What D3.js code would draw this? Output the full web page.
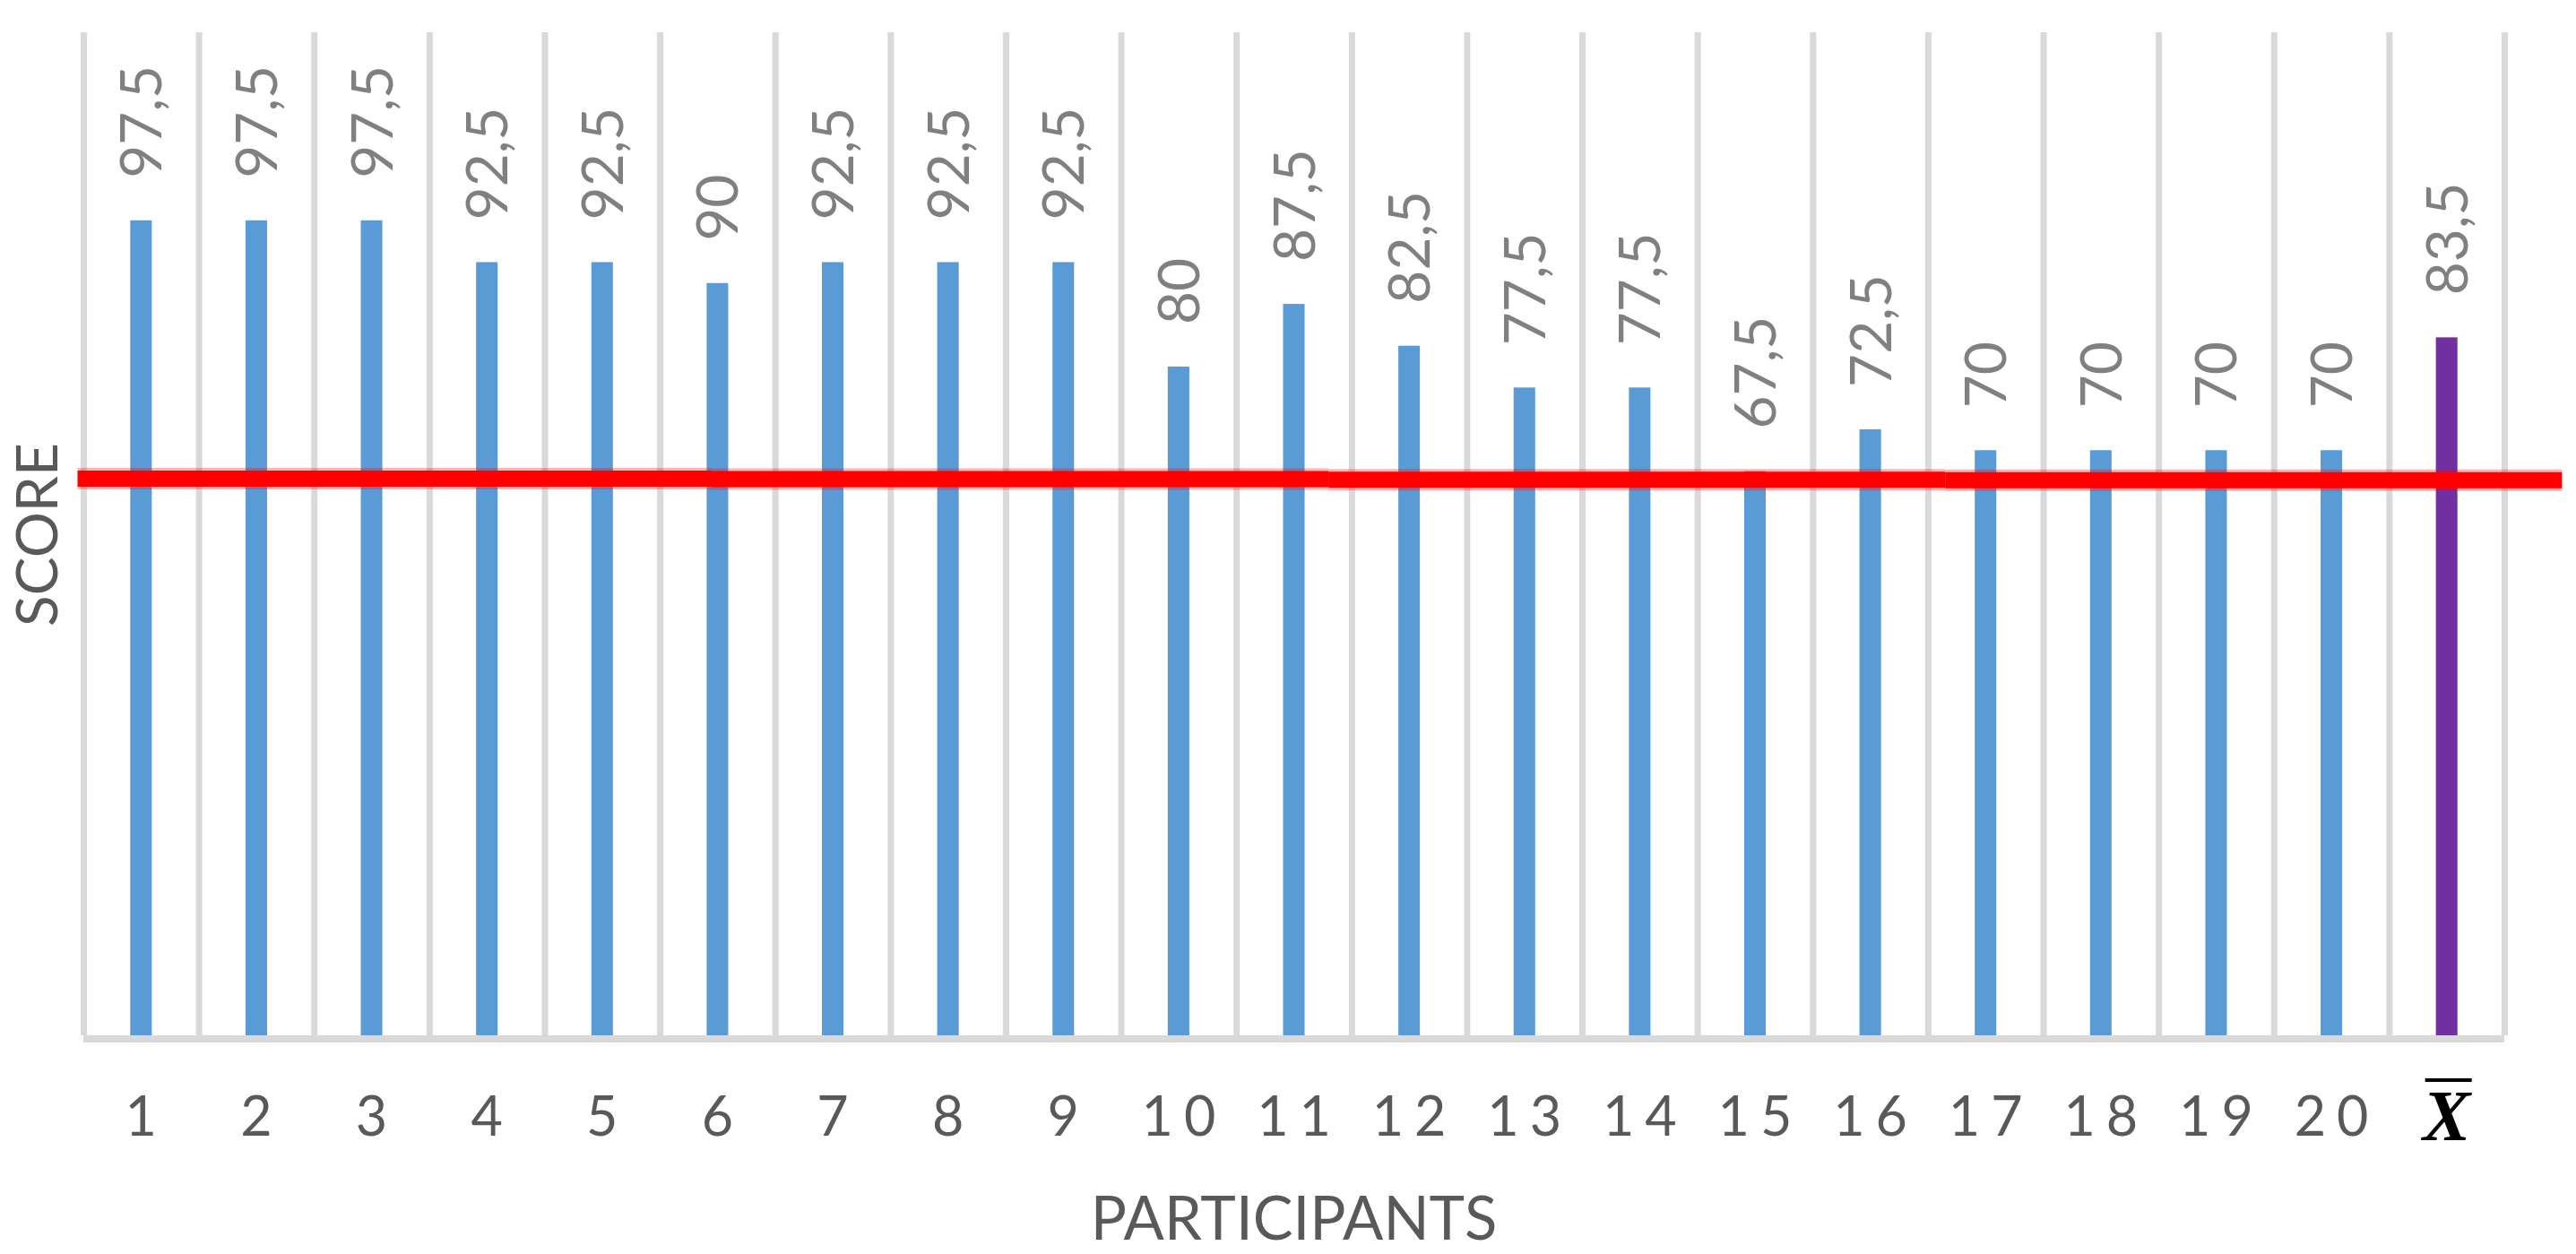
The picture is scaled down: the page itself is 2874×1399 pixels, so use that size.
<!DOCTYPE html>
<html>
<head>
<meta charset="utf-8">
<script src="https://cdn.jsdelivr.net/npm/d3@7"></script>
<style>
    html, body { margin: 0; padding: 0; background: #ffffff; }
    svg { display: block; }
    .grid line { stroke: #d9d9d9; stroke-width: 7; }
    .grid path { display: none; }
    .x.axis path { display: none; }
    .x.axis text { font-family: Lato, "Open Sans", sans-serif; font-size: 61px; fill: #595959; letter-spacing: 12px; }
    .bar_label { font-family: Lato, "Open Sans", sans-serif; font-size: 64px; fill: #808080; }
    .axis_title { font-family: Lato, "Open Sans", sans-serif; font-size: 67px; fill: #595959; }
</style>
</head>
<body>
<div id="chart"></div>
<script>
//chart data
var participants = ["1", "2", "3", "4", "5", "6", "7", "8", "9", "10",
    "11", "12", "13", "14", "15", "16", "17", "18", "19", "20", "X\u0304"];
var scores = [97.5, 97.5, 97.5, 92.5, 92.5, 90, 92.5, 92.5, 92.5, 80,
    87.5, 82.5, 77.5, 77.5, 67.5, 72.5, 70, 70, 70, 70, 83.5];
var meanLabel = "X\u0304";

//red cut-off line, drawn by hand in the original in 4 pieces (category units / score)
var cutoffBreaks = [-0.05, 5.45, 10.8, 16.15, 21.5];
var cutoffScores = [66.6, 66.55, 66.45, 66.4];

var yDomain = [0, 120];

var width = 2874,
    height = 1399;
var margin = { top: 36, right: 80, bottom: 244, left: 93 },
    innerwidth = width - margin.left - margin.right,
    innerheight = height - margin.top - margin.bottom;

var decimalComma = d3.formatLocale({ decimal: ",", thousands: ".", grouping: [3], currency: ["", ""] });
var labelFormat = decimalComma.format("~g");

var data = participants.map(function (p, i) { return { name: p, score: scores[i] }; });

var x_scale = d3.scaleBand()
    .domain(participants)
    .range([0, innerwidth])
    .padding(0);

// same span, counted in categories (for gridlines between the bars)
var cat_scale = d3.scaleLinear()
    .domain([0, participants.length])
    .range([0, innerwidth]);

var y_scale = d3.scaleLinear()
    .domain(yDomain)
    .range([innerheight, 0]);

var barWidth = x_scale.bandwidth() * 0.187;

var svg = d3.select("#chart").append("svg")
    .attr("width", width)
    .attr("height", height)
    .append("g")
    .attr("transform", "translate(" + margin.left + "," + margin.top + ")");

//vertical gridlines at the category edges
var x_grid = d3.axisBottom(cat_scale)
    .tickValues(d3.range(participants.length + 1))
    .tickSize(-(y_scale(yDomain[0]) - y_scale(yDomain[1])))
    .tickSizeOuter(0)
    .tickFormat("");

svg.append("g")
    .attr("class", "grid")
    .attr("transform", "translate(0," + (innerheight + 4) + ")")
    .call(x_grid)
    .selectAll(".tick line")
    .attr("transform", "translate(0,-4)");

//bottom axis line
svg.append("line")
    .attr("x1", 0)
    .attr("x2", innerwidth)
    .attr("y1", innerheight + 4)
    .attr("y2", innerheight + 4)
    .attr("stroke", "#d9d9d9")
    .attr("stroke-width", 8);

//bars
svg.selectAll(".bar")
    .data(data)
    .enter().append("rect")
    .attr("class", "bar")
    .attr("x", function (d) { return x_scale(d.name) + (x_scale.bandwidth() - barWidth) / 2; })
    .attr("width", barWidth)
    .attr("y", function (d) { return y_scale(d.score); })
    .attr("height", function (d) { return y_scale(0) - y_scale(d.score); })
    .attr("fill", function (d) { return d.name === meanLabel ? "#7030a0" : "#5b9bd5"; });

//value labels, rotated
svg.selectAll(".bar_label")
    .data(data)
    .enter().append("text")
    .attr("class", "bar_label")
    .attr("transform", function (d) {
        return "translate(" + (x_scale(d.name) + x_scale.bandwidth() / 2) + "," + (y_scale(d.score) - 47) + ") rotate(-90)";
    })
    .attr("dy", "0.36em")
    .style("text-anchor", "start")
    .text(function (d) { return labelFormat(d.score); });

//category axis
var x_axis = d3.axisBottom(x_scale)
    .tickSize(0)
    .tickSizeOuter(0);

var xg = svg.append("g")
    .attr("class", "x axis")
    .attr("transform", "translate(0," + innerheight + ")")
    .call(x_axis);

xg.selectAll(".tick text")
    .attr("y", 112)
    .attr("dy", 0)
    .attr("dx", 6);

// the mean tick: bold italic serif X with a bar over it
var meanTick = xg.selectAll(".tick").filter(function (d) { return d === meanLabel; });
meanTick.select("text")
    .text("X")
    .attr("y", 117)
    .attr("dx", 0)
    .style("font-family", "'Liberation Serif', 'DejaVu Serif', serif")
    .style("font-style", "italic")
    .style("font-weight", "bold")
    .style("font-size", "80px")
    .style("letter-spacing", "0px")
    .style("fill", "#000000");
meanTick.append("line")
    .attr("x1", -24)
    .attr("x2", 28)
    .attr("y1", 50)
    .attr("y2", 50)
    .attr("stroke", "#000000")
    .attr("stroke-width", 4);

//axis titles
svg.append("text")
    .attr("class", "axis_title")
    .attr("x", innerwidth / 2)
    .attr("y", 1347)
    .style("text-anchor", "middle")
    .text("PARTICIPANTS");

svg.append("text")
    .attr("class", "axis_title")
    .attr("transform", "translate(-29," + (innerheight / 2 + 1) + ") rotate(-90)")
    .style("text-anchor", "middle")
    .style("font-size", "64px")
    .text("SCORE");

//red cut-off line
var pieces = cutoffScores.map(function (s, i) {
    return { x0: cutoffBreaks[i], x1: cutoffBreaks[i + 1], score: s };
});

var cut = svg.append("g").attr("class", "cutoff");

cut.selectAll(".halo")
    .data(pieces)
    .enter().append("line")
    .attr("class", "halo")
    .attr("x1", function (d) { return cat_scale(d.x0); })
    .attr("x2", function (d) { return cat_scale(d.x1); })
    .attr("y1", function (d) { return y_scale(d.score); })
    .attr("y2", function (d) { return y_scale(d.score); })
    .attr("stroke", "rgba(255,0,0,0.3)")
    .attr("stroke-width", 24);

cut.selectAll(".core")
    .data(pieces)
    .enter().append("line")
    .attr("class", "core")
    .attr("x1", function (d) { return cat_scale(d.x0); })
    .attr("x2", function (d) { return cat_scale(d.x1); })
    .attr("y1", function (d) { return y_scale(d.score); })
    .attr("y2", function (d) { return y_scale(d.score); })
    .attr("stroke", "#ff0000")
    .attr("stroke-width", 18);
</script>
</body>
</html>
